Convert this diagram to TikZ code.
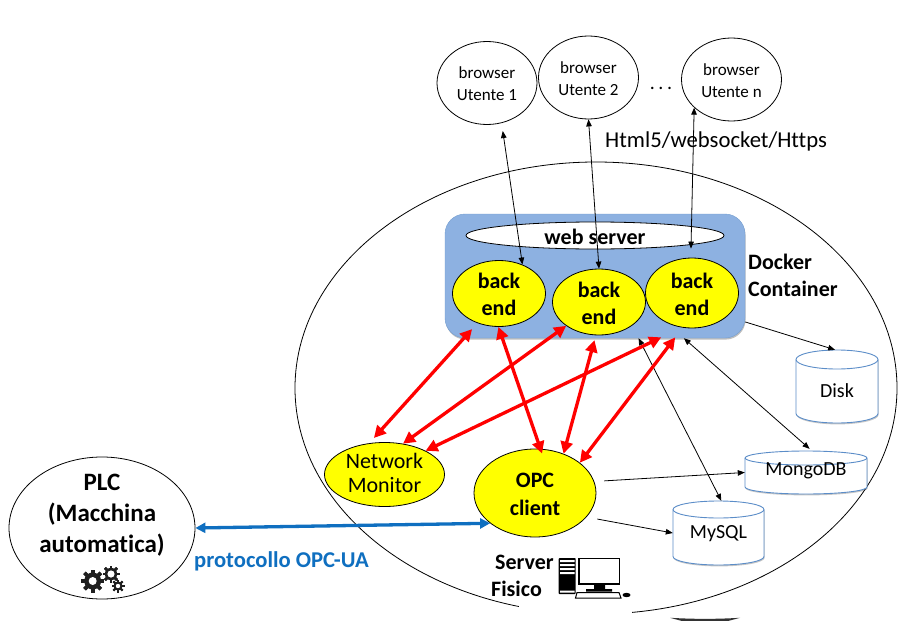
\documentclass[tikz,border=0pt]{standalone}
\usepackage{fontspec}
\setmainfont{Carlito}[Ligatures=NoCommon]
\usetikzlibrary{shapes.geometric,arrows.meta,shadows}
\definecolor{dockerblue}{HTML}{8DB1E1}
\definecolor{cylblue}{HTML}{5B8DC8}
\definecolor{opcblue}{HTML}{0F6FC0}
\definecolor{bootyellow}{HTML}{FFFF00}
\newcommand\brfont{\fontsize{17}{22}\selectfont}
\newcommand\bkfont{\fontsize{22}{27}\selectfont\bfseries}
\newcommand\opfont{\fontsize{22}{28}\selectfont\bfseries}
\tikzset{
  x=1pt,y=-1pt,
  ell/.style={ellipse,draw=black,line width=0.8pt,inner sep=0pt,align=center},
  lowtext/.style 2 args={label={[inner sep=0pt,align=center,yshift=-1pt,font=#1]center:#2}},
  browserell/.style={ell,minimum width=100pt,minimum height=83pt},
  backell/.style={ell,fill=bootyellow,minimum width=93pt,minimum height=66pt},
  thinarrow/.style={{Triangle[length=7pt,width=5.5pt]}-{Triangle[length=7pt,width=5.5pt]},black,line width=0.8pt},
  onearrow/.style={-{Triangle[length=7pt,width=5.5pt]},black,line width=0.8pt},
  redarrow/.style={{Triangle[length=12pt,width=12pt]}-{Triangle[length=12pt,width=12pt]},red,line width=3.3pt},
  bluearrow/.style={{Triangle[length=10pt,width=10pt]}-{Triangle[length=10pt,width=10pt]},opcblue,line width=3.3pt},
  cylbody/.style={draw=cylblue,fill=white,line width=0.9pt,drop shadow={shadow xshift=0.6pt,shadow yshift=-1.4pt,opacity=.22,fill=black}},
  cylnode/.style={rectangle,inner sep=0pt},
  cyltext/.style={font=\fontsize{20}{24}\selectfont,inner sep=0pt},
}
% #1 name, #2 left, #3 top, #4 right, #5 bottom, #6 ry, #7 text shift, #8 text
\newcommand\mycyl[8]{%
  \path[cylbody] (#2,#3+#6) -- (#2,#5-#6) arc[x radius={(#4-#2)/2*1pt},y radius=#6pt,start angle=180,end angle=360]
     -- (#4,#3+#6) arc[x radius={(#4-#2)/2*1pt},y radius=#6pt,start angle=0,end angle=180] -- cycle;
  \draw[draw=cylblue,line width=0.9pt] (#2,#3+#6) arc[x radius={(#4-#2)/2*1pt},y radius=#6pt,start angle=180,end angle=360];
  \node[cylnode,minimum width={(#4-#2)*1pt},minimum height={(#5-#3)*1pt},label={[cyltext,yshift=#7pt]center:#8}] (#1) at ({(#2+#4)/2},{(#3+#5)/2}) {};
}
% #1 cx, #2 cy, #3 outer radius, #4 body radius, #5 hole radius, #6 tooth half width, #7 step
\newcommand\mygear[7]{%
  \foreach \a in {0,#7,...,359} {\fill[black!88,rotate around={\a:(#1,#2)}] (#1-#6,#2-#3) rectangle (#1+#6,#2+#3);}
  \fill[black!88] (#1,#2) circle[radius=#4pt];
  \fill[white] (#1,#2) circle[radius=#5pt];
}
\begin{document}
\begin{tikzpicture}
\useasboundingbox (0,0) rectangle (903,621);
\fill[white] (0,0) rectangle (903,621);

% physical server
\node[ell,minimum width=602pt,minimum height=452pt] (server) at (596,388) {};
\fill[white] (518.5,596) rectangle (632,621);
\fill[black!80] (670,617.8) .. controls (695,619.2) and (715,619.2) .. (740,617.8) -- (728,621) -- (682,621) -- cycle;

% browsers
\node[browserell,lowtext={\brfont}{browser\\Utente 1}] (b1) at (487,83) {};
\node[browserell,lowtext={\brfont}{browser\\Utente 2}] (b2) at (588.5,77.5) {};
\node[browserell,lowtext={\brfont}{browser\\Utente n}] (bn) at (731.5,79.5) {};
\node[inner sep=0pt,font=\fontsize{20}{24}\selectfont] (dots) at (661,88) {.\hspace{3.5pt}.\hspace{3.5pt}.};
\node[inner sep=0pt,anchor=west,font=\fontsize{22.7}{27}\selectfont] (proto) at (605,141) {Html5/websocket/Https};

% docker
\node[rectangle,rounded corners=20pt,draw=cylblue!85,fill=dockerblue,minimum width=300pt,minimum height=124pt,inner sep=0pt,
  drop shadow={shadow xshift=0.6pt,shadow yshift=-1.6pt,opacity=.25,fill=black}] (docker) at (595,276) {};
\node[ell,fill=white,minimum width=258pt,minimum height=27pt,lowtext={\bkfont}{web server}] (web) at (595,235.5) {};
\node[backell,lowtext={\bkfont}{back\\end}] (be1) at (499,293.5) {};
\node[backell,lowtext={\bkfont}{back\\end}] (be2) at (599,302) {};
\node[backell,minimum height=70pt,lowtext={\bkfont}{back\\end}] (be3) at (692,293) {};
\node[inner sep=0pt,anchor=west,align=left,font=\bkfont] (dlabel) at (748,275.5) {Docker\\Container};

% clients
\node[ell,fill=bootyellow,minimum width=120pt,minimum height=64pt,
  label={[inner sep=0pt,align=center,yshift=1.5pt,font=\fontsize{22}{24}\selectfont]center:Network\\Monitor}] (nm) at (384.5,474.5) {};
\node[ell,fill=bootyellow,minimum width=122pt,minimum height=88pt,lowtext={\opfont}{OPC\\client}] (opc) at (535,493) {};

% storage
\mycyl{disk}{796}{350}{878}{423}{9.5}{-4.5}{Disk}
\mycyl{mongo}{745}{451}{867}{494}{7}{1.5}{MongoDB}
\mycyl{mysql}{673}{501}{764}{565}{8.5}{-1}{MySQL}

% PLC
\node[ell,minimum width=186pt,minimum height=142pt] (plc) at (102,528) {};
\node[inner sep=0pt,align=center,font=\fontsize{25}{31}\selectfont\bfseries] (plct) at (102,515.5) {PLC\\(Macchina\\automatica)};
\mygear{92.7}{581}{11.5}{8.5}{4}{1.8}{45}
\mygear{111}{574}{8.5}{6.2}{3.6}{1.3}{45}
\mygear{118}{586}{6.5}{4.6}{2.2}{1}{45}
\node[inner sep=0pt,anchor=west,font=\fontsize{22.6}{26}\selectfont\bfseries,text=opcblue] (plabel) at (194,561) {protocollo OPC-UA};

% server label
\node[inner sep=0pt,anchor=west,font=\bkfont] (slabel) at (495,562) {Server};
\node[inner sep=0pt,anchor=west,font=\bkfont] (flabel) at (491,589) {Fisico};

% computer icon
\fill[black, rounded corners=0.8pt] (558.7,558) rectangle (575.7,594);
\fill[white] (560,560) rectangle (574.5,562) (560,564) rectangle (574.5,566) (560,568) rectangle (574.5,570)  (560,572) rectangle (574.5,574) (560,590.5) rectangle (574.5,592.5);
\draw[black,line width=1.4pt,fill=white] (579,558.5) rectangle (619.5,584);
\fill[black] (594,585) rectangle (605,589) (586,589) rectangle (612,591.5);
\draw[black,line width=1pt,fill=white] (577,592.5) -- (619,592.5) -- (621,598) -- (575.5,598) -- cycle;
\fill[black] (626.5,595) ellipse[x radius=4pt,y radius=2.2pt];

% black connectors
\draw[thinarrow,shorten <=8pt] (b1.-70) -- (be1.51);
\draw[thinarrow] (b2.-90) -- (be2.90);
\draw[thinarrow,shorten >=9pt] (bn.-143) -- (be3.92);
\draw[onearrow] (docker.-17) -- (disk.93);
\draw[thinarrow] (docker.-55.3) -- (mysql.85.5);
\draw[thinarrow,shorten >=3pt] (docker.-35.5) -- (mongo.75);
\draw[onearrow,shorten <=10pt] (opc.11.5) -- (mongo.west);
\draw[onearrow,shorten <=11pt] (opc.-25.4) -- (mysql.west);

% red connectors
\draw[redarrow,shorten >=8pt,shorten <=7pt] (nm.116) -- (be1.-126);
\draw[redarrow,shorten >=-5pt] (be1.-91) -- (opc.83);
\draw[redarrow] (be2.-144) -- (nm.59);
\draw[redarrow,shorten <=2pt] (docker.-90) -- (opc.54.6);
\draw[redarrow,shorten <=-2pt] (docker.-44.5) -- (nm.30.6);
\draw[redarrow,shorten <=-1pt] (docker.-38.5) -- (opc.34.6);

% OPC-UA link
\draw[bluearrow] (plc.0) -- (opc.-146.3);
\end{tikzpicture}
\end{document}
